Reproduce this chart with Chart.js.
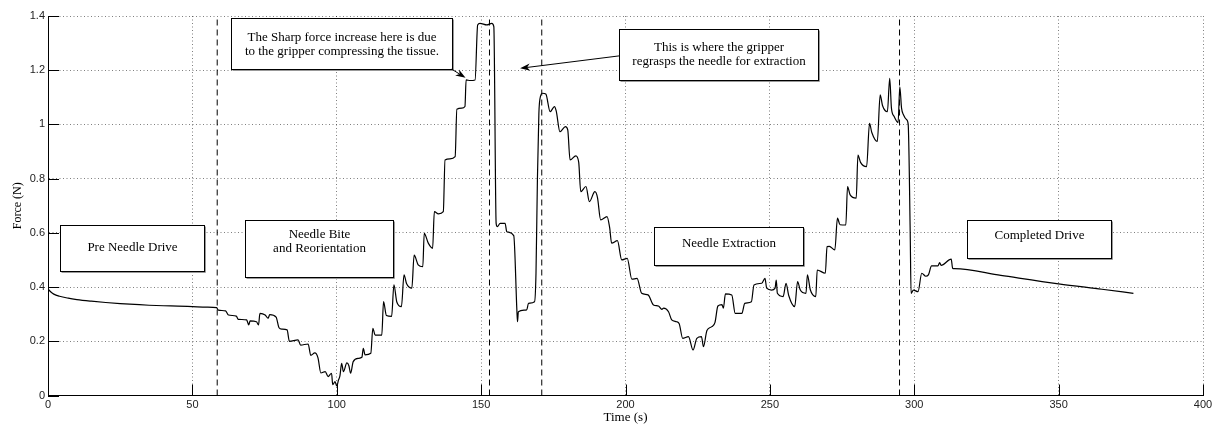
<!DOCTYPE html>
<html><head><meta charset="utf-8">
<script src="https://cdn.jsdelivr.net/npm/chart.js@4.4.0/dist/chart.umd.min.js"></script>
<style>html,body{margin:0;padding:0;background:#fff;}canvas{display:block;}</style>
</head><body>
<canvas id="c" width="1221" height="428"></canvas>
<script>
// ---- data ----
const timeS = [
  0,1,2,4,7,10,15,20,25,30,35,40,45,50,55,58.4,59.0,61.5,62.5,65.2,65.9,68.8,69.5,70.0,72.2,72.9,73.4,75.2,76.2,76.8,79.0,80.0,81.0,82.8,83.6,86.6,87.5,90.1,91.0,92.4,93.5,94.5,96.0,97.0,98.2,98.6,99.4,100.0,100.6,101.1,101.7,102.3,103.5,104.2,104.8,105.7,107.5,108.7,109.2,109.8,111.8,112.5,113.3,115.6,116.2,117.2,119.0,119.8,120.8,122.4,123.3,124.2,126.0,126.8,128.2,129.8,130.3,131.7,133.2,133.8,135.2,136.9,137.5,139.2,141.0,141.6,143.3,144.4,144.8,146.2,147.9,148.8,149.6,152.0,153.7,154.4,155.2,155.6,156.6,158.3,158.9,161.3,162.4,162.6,162.9,165.8,166.4,168.5,169.0,169.5,170.0,170.6,171.2,172.4,173.9,175.4,176.0,177.3,179.2,180.0,180.8,182.8,183.8,184.5,186.3,187.5,189.4,190.3,191.4,193.6,194.5,195.2,197.2,198.7,200.6,202.2,204.0,205.6,207.8,209.7,211.4,212.6,213.2,214.9,216.0,217.7,218.6,219.8,221.8,223.4,224.7,226.3,227.0,228.2,229.9,231.0,232.0,233.4,233.9,234.6,236.8,238.0,240.3,241.3,243.6,244.5,247.2,248.3,248.9,250.6,251.8,252.2,252.6,254.6,255.6,256.5,258.6,259.6,260.5,262.5,263.0,264.0,265.9,266.4,269.2,269.8,270.6,272.5,273.4,274.3,276.3,276.9,277.8,279.9,280.5,281.4,283.5,284.5,285.3,287.2,288.2,289.0,290.7,291.5,292.1,293.0,294.4,295.0,295.6,296.3,297.4,297.9,298.6,298.9,299.7,301.3,302.6,304.0,304.9,306.0,308.2,308.8,309.3,312.8,313.3,314.0,330.0,350.0,365.0,375.9
];
const forceN = [
  0.393,0.382,0.374,0.366,0.359,0.354,0.348,0.343,0.339,0.336,0.333,0.331,0.330,0.328,0.326,0.324,0.315,0.312,0.297,0.293,0.281,0.279,0.260,0.275,0.272,0.260,0.303,0.297,0.285,0.298,0.289,0.250,0.245,0.242,0.200,0.205,0.186,0.190,0.148,0.157,0.139,0.083,0.088,0.070,0.082,0.040,0.051,0.035,0.057,0.072,0.119,0.088,0.120,0.110,0.082,0.125,0.137,0.141,0.174,0.150,0.156,0.248,0.223,0.223,0.346,0.295,0.292,0.408,0.345,0.328,0.445,0.412,0.396,0.518,0.482,0.475,0.598,0.562,0.543,0.678,0.670,0.678,0.869,0.873,0.881,1.056,1.060,1.066,1.164,1.162,1.164,1.367,1.373,1.367,1.373,1.361,0.635,0.623,0.635,0.635,0.604,0.590,0.310,0.272,0.309,0.316,0.340,0.346,0.45,0.80,1.04,1.105,1.115,1.112,1.047,1.066,1.05,0.973,0.992,0.98,0.869,0.884,0.86,0.752,0.771,0.715,0.752,0.73,0.648,0.660,0.62,0.562,0.571,0.500,0.506,0.429,0.432,0.377,0.371,0.334,0.330,0.318,0.322,0.309,0.279,0.272,0.265,0.211,0.217,0.168,0.211,0.217,0.180,0.240,0.254,0.27,0.330,0.335,0.322,0.375,0.371,0.303,0.303,0.340,0.346,0.408,0.414,0.432,0.396,0.389,0.396,0.426,0.377,0.365,0.414,0.37,0.328,0.420,0.39,0.377,0.445,0.39,0.365,0.463,0.451,0.549,0.55,0.537,0.654,0.63,0.629,0.771,0.74,0.728,0.887,0.86,0.844,1.004,0.97,0.937,1.109,1.07,1.047,1.170,1.06,1.030,1.007,1.139,1.06,1.035,1.017,1.000,0.60,0.377,0.389,0.383,0.451,0.440,0.445,0.478,0.478,0.490,0.480,0.503,0.469,0.468,0.443,0.412,0.392,0.377
];
const phaseBoundaries = [58.6, 152.9, 171.0, 294.9];
const xTickValues = [0, 50, 100, 150, 200, 250, 300, 350, 400];
const xTickLabels = ['0', '50', '100', '150', '200', '250', '300', '350', '400'];
const yTickValues = [0, 0.2, 0.4, 0.6, 0.8, 1.0, 1.2, 1.4];
const yTickLabels = ['0', '0.2', '0.4', '0.6', '0.8', '1', '1.2', '1.4'];
const phaseLabels = [['Pre Needle Drive'], ['Needle Bite', 'and Reorientation'], ['Needle Extraction'], ['Completed Drive']];
const calloutLabels = [['The Sharp force increase here is due', 'to the gripper compressing the tissue.'],
                       ['This is where the gripper', 'regrasps the needle for extraction']];
const xTitle = 'Time (s)';
const yTitle = 'Force (N)';

// ---- annotation placement (data units) ----
const phaseBoxes = [
  {x0: 4.2, x1: 54.0, y0: 0.459, y1: 0.629, ty: 0.544},
  {x0: 68.2, x1: 119.6, y0: 0.438, y1: 0.648, ty: 0.566},
  {x0: 209.9, x1: 261.4, y0: 0.482, y1: 0.621, ty: 0.562},
  {x0: 318.4, x1: 368.0, y0: 0.508, y1: 0.648, ty: 0.589}
];
const calloutBoxes = [
  {x0: 63.4, x1: 140.0, y0: 1.204, y1: 1.392, ty: 1.295, from: [139.8, 1.204], to: [144.6, 1.172]},
  {x0: 197.9, x1: 266.8, y0: 1.164, y1: 1.351, ty: 1.256, from: [197.9, 1.253], to: [163.5, 1.207]}
];

const forceData = timeS.map((t, i) => ({x: t, y: forceN[i]}));
const boundarySets = phaseBoundaries.map(b => ({
  data: [{x: b, y: 0}, {x: b, y: 1.4}],
  borderColor: '#000', borderWidth: 1, borderDash: [6, 4], pointRadius: 0, tension: 0
}));

function drawArrow(ctx, x1, y1, x2, y2) {
  const ang = Math.atan2(y2 - y1, x2 - x1);
  const L = 10, W = 3.6, N = 7;
  ctx.beginPath();
  ctx.moveTo(x1, y1);
  ctx.lineTo(x2 - Math.cos(ang) * N, y2 - Math.sin(ang) * N);
  ctx.stroke();
  const bx = x2 - Math.cos(ang) * L, by = y2 - Math.sin(ang) * L;
  const nx = -Math.sin(ang), ny = Math.cos(ang);
  ctx.beginPath();
  ctx.moveTo(x2, y2);
  ctx.lineTo(bx + nx * W, by + ny * W);
  ctx.lineTo(x2 - Math.cos(ang) * N, y2 - Math.sin(ang) * N);
  ctx.lineTo(bx - nx * W, by - ny * W);
  ctx.closePath();
  ctx.fill();
}

const annotationPlugin = {
  id: 'annot',
  afterDatasetsDraw(chart) {
    const {ctx, chartArea: a} = chart;
    const xs = chart.scales.x, ys = chart.scales.y;
    ctx.save();
    ctx.strokeStyle = '#000'; ctx.lineWidth = 1; ctx.setLineDash([]);
    ctx.beginPath();
    xs.ticks.forEach(t => {
      const px = Math.round(xs.getPixelForValue(t.value)) + 0.5;
      ctx.moveTo(px, a.bottom); ctx.lineTo(px, a.bottom - 11);
    });
    ys.ticks.forEach(t => {
      const py = Math.round(ys.getPixelForValue(t.value)) + 0.5;
      ctx.moveTo(a.left, py); ctx.lineTo(a.left + 11, py);
    });
    ctx.stroke();

    function box(b, lines) {
      const L = Math.round(xs.getPixelForValue(b.x0)) + 0.5, R = Math.round(xs.getPixelForValue(b.x1)) + 0.5;
      const T = Math.round(ys.getPixelForValue(b.y1)) + 0.5, B = Math.round(ys.getPixelForValue(b.y0)) + 0.5;
      ctx.fillStyle = '#fff';
      ctx.fillRect(L, T, R - L, B - T);
      ctx.strokeStyle = '#999'; ctx.lineWidth = 1;
      ctx.beginPath(); ctx.moveTo(L + 1, B + 1); ctx.lineTo(R + 1, B + 1); ctx.lineTo(R + 1, T + 1); ctx.stroke();
      ctx.strokeStyle = '#000';
      ctx.strokeRect(L, T, R - L, B - T);
      ctx.fillStyle = '#000';
      ctx.font = '13px "Liberation Serif", "Times New Roman", serif';
      ctx.textAlign = 'center'; ctx.textBaseline = 'middle';
      const cx = (L + R) / 2, cy = ys.getPixelForValue(b.ty);
      const lh = 14;
      lines.forEach((s, i) => ctx.fillText(s, cx, cy + (i - (lines.length - 1) / 2) * lh));
    }
    phaseBoxes.forEach((b, i) => box(b, phaseLabels[i]));
    calloutBoxes.forEach((b, i) => {
      box(b, calloutLabels[i]);
      ctx.strokeStyle = '#000'; ctx.fillStyle = '#000'; ctx.lineWidth = 1;
      drawArrow(ctx, xs.getPixelForValue(b.from[0]), ys.getPixelForValue(b.from[1]),
                xs.getPixelForValue(b.to[0]), ys.getPixelForValue(b.to[1]));
    });
    ctx.restore();
  }
};

const tickFont = {family: '"Liberation Sans", Arial, sans-serif', size: 11};
new Chart(document.getElementById('c'), {
  type: 'line',
  data: {
    datasets: [
      {data: forceData, borderColor: '#000', borderWidth: 1.2, pointRadius: 0, cubicInterpolationMode: 'monotone'},
      ...boundarySets
    ]
  },
  options: {
    responsive: false, animation: false, devicePixelRatio: 1,
    layout: {padding: {top: 16, right: 18, left: 0, bottom: 0}},
    plugins: {legend: {display: false}, tooltip: {enabled: false}},
    scales: {
      x: {
        type: 'linear', min: 0, max: 400,
        afterBuildTicks: s => { s.ticks = xTickValues.map(v => ({value: v})); },
        afterFit: s => { s.height = 32.5; },
        ticks: {padding: 3, color: '#222', font: tickFont, maxRotation: 0,
                callback: v => { const i = xTickValues.indexOf(v); return i >= 0 ? xTickLabels[i] : ''; }},
        grid: {color: 'rgba(0,0,0,0.5)', lineWidth: 1, drawTicks: false},
        border: {display: true, color: '#000', width: 1, dash: [1, 2.5]},
        title: {display: true, text: xTitle, color: '#000',
                font: {family: '"Liberation Serif", "Times New Roman", serif', size: 13},
                padding: {top: 0, bottom: 3}}
      },
      y: {
        type: 'linear', min: 0, max: 1.4,
        afterBuildTicks: s => { s.ticks = yTickValues.map(v => ({value: v})); },
        afterFit: s => { s.width = 48; },
        ticks: {padding: 3, color: '#222', font: tickFont,
                callback: v => { const i = yTickValues.findIndex(t => Math.abs(t - v) < 1e-9); return i >= 0 ? yTickLabels[i] : ''; }},
        grid: {color: 'rgba(0,0,0,0.5)', lineWidth: 1, drawTicks: false},
        border: {display: true, color: '#000', width: 1, dash: [1, 2.5]},
        title: {display: true, text: yTitle, color: '#000',
                font: {family: '"Liberation Serif", "Times New Roman", serif', size: 12},
                padding: {top: 11, bottom: 0}}
      }
    }
  },
  plugins: [annotationPlugin]
});
</script>
</body></html>
